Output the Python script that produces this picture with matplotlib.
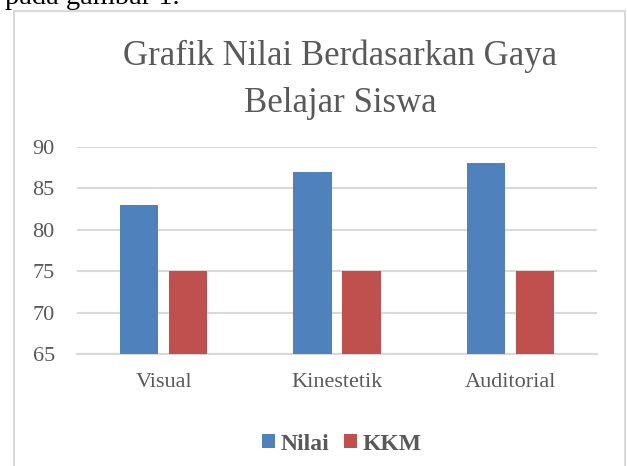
import matplotlib
matplotlib.use("Agg")
import matplotlib.pyplot as plt
from matplotlib.patches import Rectangle
import numpy as np

categories = ["Visual", "Kinestetik", "Auditorial"]
nilai = [83, 87, 88]
kkm = [75, 75, 75]
series_names = ["Nilai", "KKM"]
yticks = [65, 70, 75, 80, 85, 90]

BLUE = "#4F81BD"
RED = "#C0504D"
GRAY = "#595959"
GRID = "#D9D9D9"
FONT = ["Liberation Serif", "DejaVu Serif"]

W, H = 627, 466
fig = plt.figure(figsize=(W / 100, H / 100), dpi=100)
fig.patch.set_facecolor("white")

# chart frame
fig.patches.append(Rectangle((13.5 / W, -0.05), (625 - 13.5) / W, 1.05 - 11 / H,
                             transform=fig.transFigure, fill=False,
                             edgecolor=GRID, linewidth=1.5))

# cut-off document text at top
fig.text(5 / W, 1 - 3.5 / H, "pada gambar 1.", fontsize=20.5, family=FONT,
         color="black", ha="left", va="baseline")

ax = fig.add_axes([77 / W, 1 - 354 / H, (597 - 77) / W, (354 - 146.7) / H])
x = np.arange(len(categories))
bw = 0.222
gap = 0.06
off = (bw + gap) / 2
b1 = ax.bar(x - off, [v - 65 for v in nilai], bw, bottom=65, color=BLUE, label=series_names[0], zorder=3)
b2 = ax.bar(x + off, [v - 65 for v in kkm], bw, bottom=65, color=RED, label=series_names[1], zorder=3)

ax.set_xlim(-0.5, len(categories) - 0.5)
ax.set_ylim(65, 90)
ax.set_yticks(yticks)
ax.set_xticks(x)
ax.set_xticklabels(categories)
ax.yaxis.grid(True, color=GRID, linewidth=1.5, zorder=0)
ax.set_axisbelow(True)
for s in ["top", "right", "left"]:
    ax.spines[s].set_visible(False)
ax.spines["bottom"].set_color(GRID)
ax.spines["bottom"].set_linewidth(1.5)
ax.tick_params(axis="both", length=0, labelcolor=GRAY, labelsize=16)
ax.tick_params(axis="y", pad=16)
ax.tick_params(axis="x", pad=14)
for lab in ax.get_xticklabels() + ax.get_yticklabels():
    lab.set_family(FONT)

fig.text(340 / W, 1 - 65 / H, "Grafik Nilai Berdasarkan Gaya", fontsize=25, family=FONT,
         color=GRAY, ha="center", va="baseline")
fig.text(340 / W, 1 - 112 / H, "Belajar Siswa", fontsize=25, family=FONT,
         color=GRAY, ha="center", va="baseline")

leg = fig.legend(handles=[b1, b2], labels=series_names, loc="center",
                 bbox_to_anchor=(342 / W, 1 - 444 / H), ncol=2, frameon=False,
                 prop={"family": FONT, "size": 17, "weight": "bold"},
                 handlelength=0.55, handleheight=0.55, handletextpad=0.25,
                 columnspacing=0.6)
for t in leg.get_texts():
    t.set_color(GRAY)

fig.savefig("out.png", dpi=100, facecolor="white")
